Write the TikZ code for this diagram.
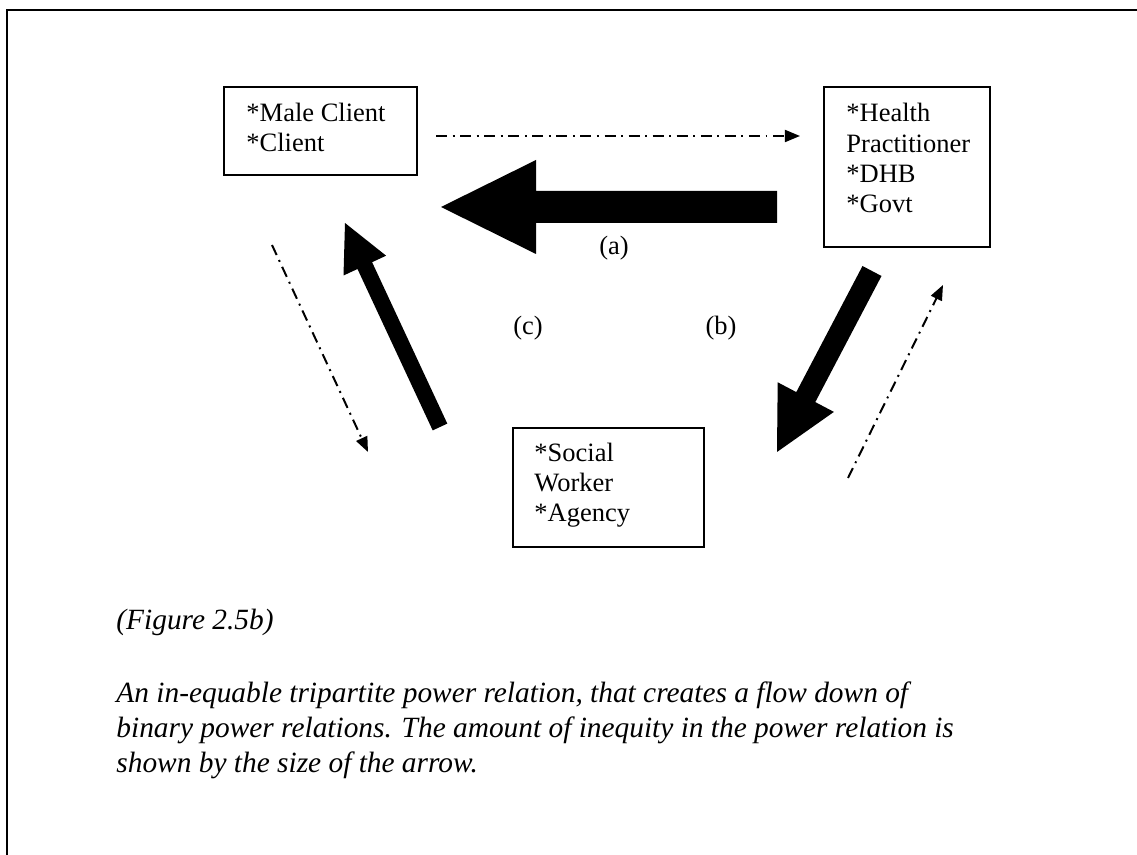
\documentclass[tikz,border=0pt]{standalone}
\usepackage{fontspec}
\setmainfont{Liberation Serif}
\usetikzlibrary{arrows.meta,fit}
\begin{document}
\begin{tikzpicture}[x=0.4528pt,y=-0.4528pt,
  frame/.style={line width=1.2pt},
  box/.style={draw, line width=0.8pt, inner sep=0pt},
  boxtext/.style={anchor=base west, align=left, inner sep=0pt, font=\fontsize{12}{13.75}\selectfont},
  lbl/.style={anchor=base, inner sep=0pt, font=\fontsize{12}{13.8}\selectfont},
  captext/.style={anchor=base west, inner sep=0pt, font=\fontsize{13.3}{15.85}\selectfont\itshape},
  dd/.style={line width=0.9pt, dash pattern=on 5pt off 2.5pt on 0.9pt off 2.5pt, -{Triangle[length=6.8pt,width=5.4pt]}},
  block/.style={fill=black, draw=none}]
\useasboundingbox (0,0) rectangle (1137,855);
\draw[frame] (7,855) -- (7,10) -- (1137,10);
% boxes
\node[box, fit={(224,87) (417,175)}] (b1) {};
\node[box, fit={(824,87) (990,247)}] (b2) {};
\node[box, fit={(513,428) (704,547)}] (b3) {};
% text nodes: anchor is the baseline of the last line
\node[boxtext] (t1) at (246,152) {*Male Client\\*Client};
\node[boxtext] (t2) at (846,213) {*Health\\Practitioner\\*DHB\\*Govt};
\node[boxtext] (t3) at (534,522) {*Social\\Worker\\*Agency};
% labels
\node[lbl] (la) at (614,255) {(a)};
\node[lbl] (lc) at (528,335) {(c)};
\node[lbl] (lb) at (721,335) {(b)};
% block arrows
\fill[block] (777,191) -- (536,191) -- (536,160) -- (441,207) -- (536,254) -- (536,223) -- (777,223) -- cycle;
\fill[block] (447.3,423.6) -- (372.1,262.2) -- (386.1,255.7) -- (345,223) -- (343.5,275.5) -- (357.5,269.0) -- (432.7,430.4) -- cycle;
\fill[block] (881.5,276.0) -- (815.3,402.1) -- (833.9,411.9) -- (777,452) -- (777.7,382.3) -- (796.3,392.1) -- (862.5,266.0) -- cycle;
% dash-dot arrows
\coordinate (d1s) at (436,136);
\coordinate (d1e) at (800,136);
\coordinate (d2s) at (272,245);
\coordinate (d2e) at (368,452);
\coordinate (d3s) at (848,478);
\coordinate (d3e) at (943,285);
\draw[dd] (d1s) -- (d1e);
\draw[dd] (d2s) -- (d2e);
\draw[dd] (d3s) -- (d3e);
% caption
\node[captext] (c0) at (116,630) {(Figure 2.5b)};
\node[captext] (c1) at (116,703) {An in-equable tripartite power relation, that creates a flow down of};
\node[captext] (c2) at (116,738) {binary power relations. The amount of inequity in the power relation is};
\node[captext] (c3) at (116,773) {shown by the size of the arrow.};
\end{tikzpicture}
\end{document}
